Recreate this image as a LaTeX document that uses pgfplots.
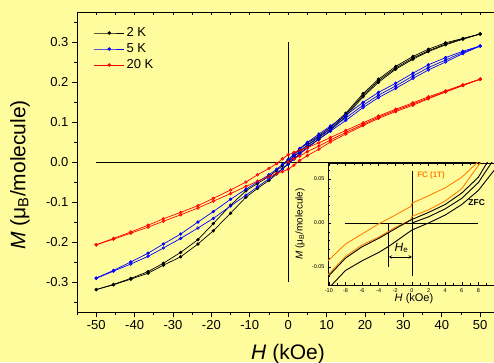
\documentclass[border=0pt]{standalone}
\usepackage{pgfplots}
\pgfplotsset{compat=1.18}
\usepackage{fontspec}
\setmainfont{Liberation Sans}
\definecolor{bgy}{RGB}{255,252,158}
\definecolor{myorange}{RGB}{255,128,0}
\definecolor{myblue}{RGB}{0,0,255}
\definecolor{myred}{RGB}{255,0,0}
\begin{document}
\begin{tikzpicture}
\fill[bgy] (0,0) rectangle (494pt,362pt);
\useasboundingbox (0,0) rectangle (494pt,362pt);
% ---------------- main axis ----------------
\begin{axis}[at={(77pt,50pt)}, anchor=south west, width=417pt, height=300pt, scale only axis,
 xmin=-55, xmax=53.6, ymin=-0.375, ymax=0.375,
 axis x line*=bottom, axis y line*=left,
 axis line style={line width=0.8pt},
 scaled ticks=false,
 tick align=outside, major tick length=5pt, minor tick length=3pt,
 every tick/.style={black, line width=0.7pt},
 xtick={-50,-40,-30,-20,-10,0,10,20,30,40,50},
 minor xtick={-55,-45,-35,-25,-15,-5,5,15,25,35,45},
 ytick={-0.3,-0.2,-0.1,0,0.1,0.2,0.3},
 minor ytick={-0.35,-0.25,-0.15,-0.05,0.05,0.15,0.25,0.35},
 tick label style={font=\fontsize{13}{15}\selectfont},
 xticklabel={\pgfmathprintnumber[assume math mode=true]{\tick}},
 yticklabel={\pgfmathprintnumber[assume math mode=true,fixed,fixed zerofill,precision=1]{\tick}},
 xlabel={\textit{H} (kOe)},
 ylabel={\textit{M} (μ\textsubscript{B}/molecule)},
 label style={font=\fontsize{21}{24}\selectfont},
 xlabel style={at={(axis description cs:0.506,0)}, anchor=base, yshift=-47pt},
 ylabel style={at={(axis description cs:-0.137,0.457)}, anchor=center},
 legend style={at={(axis description cs:0.04,0.955)}, anchor=north west, draw=none, fill=none,
   font=\fontsize{13}{15}\selectfont, inner sep=0pt, row sep=1.5pt},
 legend cell align=left,
 legend image code/.code={\draw[mark repeat=2,mark phase=2] plot coordinates {(0pt,0pt)(15pt,0pt)(30pt,0pt)};},
 every axis plot/.append style={line width=0.7pt, mark size=1.3pt},
]
\addplot[black, line width=0.7pt, mark=none, forget plot] coordinates {(-50,0)(50,0)};
\addplot[black, line width=0.7pt, mark=none, forget plot] coordinates {(0,-0.3)(0,0.3)};
% 2 K
\addplot[black, mark=*] coordinates {(0,0)(1.5,0.013)(3,0.026)(5,0.042)(8,0.061)(11,0.083)(15,0.118)(19.5,0.167)(23.5,0.203)(28,0.235)(32.5,0.260)(36.5,0.278)(41,0.295)(45.5,0.308)(50,0.320)};
\addlegendentry{2 K}
\addplot[black, mark=*, forget plot] coordinates {(50,0.320)(45.5,0.309)(41,0.298)(36.5,0.282)(32.5,0.264)(28,0.239)(23.5,0.207)(19.5,0.171)(15,0.122)(11,0.087)(8,0.066)(5,0.047)(3,0.032)(1.5,0.019)(0,0.004)(-1.5,-0.009)(-3,-0.021)(-5,-0.036)(-8,-0.054)(-11,-0.072)(-15,-0.108)(-19.5,-0.154)(-23.5,-0.194)(-28,-0.226)(-32.5,-0.253)(-36.5,-0.274)(-41,-0.291)(-45.5,-0.306)(-50,-0.319)};
\addplot[black, mark=*, forget plot] coordinates {(-50,-0.319)(-45.5,-0.307)(-41,-0.293)(-36.5,-0.278)(-32.5,-0.258)(-28,-0.237)(-23.5,-0.205)(-19.5,-0.172)(-15,-0.128)(-11,-0.088)(-8,-0.066)(-5,-0.046)(-3,-0.030)(-1.5,-0.017)(0,-0.004)(1.5,0.008)(3,0.021)(5,0.038)(8,0.057)(11,0.079)(15,0.114)(19.5,0.163)(23.5,0.199)(28,0.232)(32.5,0.257)(36.5,0.276)(41,0.293)(45.5,0.307)(50,0.320)};
% 5 K
\addplot[myblue, mark=*] coordinates {(0,0)(1.5,0.014)(3,0.027)(5,0.042)(8,0.064)(11,0.083)(15,0.110)(19.5,0.142)(23.5,0.167)(28,0.190)(32.5,0.215)(36.5,0.236)(41,0.255)(45.5,0.274)(50,0.290)};
\addlegendentry{5 K}
\addplot[myblue, mark=*, forget plot] coordinates {(50,0.290)(45.5,0.277)(41,0.261)(36.5,0.243)(32.5,0.222)(28,0.197)(23.5,0.174)(19.5,0.149)(15,0.117)(11,0.090)(8,0.070)(5,0.049)(3,0.034)(1.5,0.020)(0,0.006)(-1.5,-0.006)(-3,-0.018)(-5,-0.032)(-8,-0.050)(-11,-0.068)(-15,-0.093)(-19.5,-0.124)(-23.5,-0.150)(-28,-0.180)(-32.5,-0.205)(-36.5,-0.228)(-41,-0.250)(-45.5,-0.271)(-50,-0.290)};
\addplot[myblue, mark=o, forget plot] coordinates {(-50,-0.291)(-45.5,-0.273)(-41,-0.255)(-36.5,-0.236)(-32.5,-0.215)(-28,-0.191)(-23.5,-0.165)(-19.5,-0.141)(-15,-0.110)(-11,-0.083)(-8,-0.062)(-5,-0.042)(-3,-0.028)(-1.5,-0.017)(0,-0.006)(1.5,0.007)(3,0.020)(5,0.035)(8,0.057)(11,0.077)(15,0.104)(19.5,0.136)(23.5,0.161)(28,0.184)(32.5,0.209)(36.5,0.230)(41,0.250)(45.5,0.271)(50,0.290)};
% 20 K
\addplot[myred, mark=*] coordinates {(0,0)(1.5,0.008)(3,0.015)(5,0.026)(8,0.040)(11,0.055)(15,0.074)(19.5,0.094)(23.5,0.112)(28,0.129)(32.5,0.145)(36.5,0.160)(41,0.176)(45.5,0.192)(50,0.207)};
\addlegendentry{20 K}
\addplot[myred, mark=o, forget plot] coordinates {(50,0.207)(45.5,0.193)(41,0.178)(36.5,0.163)(32.5,0.148)(28,0.132)(23.5,0.115)(19.5,0.098)(15,0.079)(11,0.061)(8,0.048)(5,0.036)(3,0.029)(1.5,0.024)(0,0.018)(-1.5,0.008)(-3,-0.004)(-5,-0.016)(-8,-0.032)(-11,-0.050)(-15,-0.070)(-19.5,-0.091)(-23.5,-0.109)(-28,-0.126)(-32.5,-0.142)(-36.5,-0.158)(-41,-0.175)(-45.5,-0.191)(-50,-0.207)};
\addplot[myred, mark=o, forget plot] coordinates {(-50,-0.207)(-45.5,-0.193)(-41,-0.178)(-36.5,-0.163)(-32.5,-0.148)(-28,-0.132)(-23.5,-0.115)(-19.5,-0.098)(-15,-0.079)(-11,-0.061)(-8,-0.048)(-5,-0.036)(-3,-0.029)(-1.5,-0.024)(0,-0.018)(1.5,-0.008)(3,0.004)(5,0.016)(8,0.032)(11,0.050)(15,0.070)(19.5,0.091)(23.5,0.109)(28,0.126)(32.5,0.142)(36.5,0.158)(41,0.175)(45.5,0.191)(50,0.207)};
\end{axis}
% ---------------- top axis ticks ----------------
\begin{axis}[at={(77pt,50pt)}, anchor=south west, width=417pt, height=300pt, scale only axis,
 xmin=-55, xmax=53.6, ymin=-0.375, ymax=0.375,
 axis x line*=top, axis y line=none,
 axis line style={line width=0.8pt},
 xtick={-50,-45,...,50}, xticklabels={}, minor tick num=0,
 tick align=inside, major tick length=3pt,
 every tick/.style={black, line width=0.7pt},
]
\end{axis}
% ---------------- inset ----------------
\begin{axis}[at={(328pt,77pt)}, anchor=south west, width=166pt, height=122pt, scale only axis,
 xmin=-10.1, xmax=9.88, ymin=-0.0705, ymax=0.0682,
 axis background/.style={fill=bgy},
 axis x line*=box, axis y line*=left,
 axis line style={line width=0.8pt},
 scaled ticks=false,
 tick align=inside, major tick length=3pt, minor tick length=1.8pt,
 every tick/.style={black, line width=0.5pt},
 xtick={-10,-8,-6,-4,-2,0,2,4,6,8,10},
 minor xtick={-9,-7,-5,-3,-1,1,3,5,7,9},
 ytick={-0.05,0,0.05},
 minor ytick={-0.07,-0.06,-0.04,-0.03,-0.02,-0.01,0.01,0.02,0.03,0.04,0.06},
 tick label style={font=\fontsize{5.5}{6}\selectfont},
 xticklabel={\pgfmathprintnumber[assume math mode=true]{\tick}},
 yticklabel={\pgfmathprintnumber[assume math mode=true,fixed,fixed zerofill,precision=2]{\tick}},
 xlabel={\textit{H} (kOe)},
 ylabel={\textit{M} (μ\textsubscript{B}/molecule)},
 xlabel style={font=\fontsize{11}{13}\selectfont, at={(axis description cs:0.518,0)}, anchor=center, yshift=-14pt},
 ylabel style={font=\fontsize{10}{12}\selectfont, at={(axis description cs:-0.169,0.5)}, anchor=center},
 every axis plot/.append style={line width=0.9pt, mark=none},
]
\addplot[black, line width=0.7pt] coordinates {(0,-0.06)(0,0.059)};
\addplot[black, line width=0.7pt] coordinates {(-8,0)(8,0)};
\addplot[black, line width=0.7pt] coordinates {(-2.8,0)(-2.8,-0.05)};
% FC
\addplot[myorange] coordinates {(-10.1,-0.043)(-8,-0.024)(-6,-0.0125)(-4,-0.001)(-2,0.009)(-0.1,0.019)(0,0.0225)(2,0.031)(4,0.040)(6,0.052)(7.8,0.068)(8.2,0.072)};
\addplot[myorange] coordinates {(-10.1,-0.059)(-8,-0.038)(-6,-0.025)(-4,-0.016)(-2,-0.005)(-0.1,0.004)(0,0.0075)(2,0.015)(4,0.025)(6,0.039)(8.2,0.068)(8.6,0.073)};
% ZFC
\addplot[black] coordinates {(-10.1,-0.061)(-8,-0.040)(-6,-0.027)(-4,-0.0175)(-2,-0.0065)(0,0.004)(2,0.012)(4,0.021)(6,0.034)(8,0.052)(9.0,0.068)(9.4,0.073)};
\addplot[black] coordinates {(0,0)(2,0.007)(4,0.016)(6,0.028)(8,0.046)(9.4,0.066)(9.9,0.073)};
\addplot[black] coordinates {(-9.8,-0.072)(-8,-0.054)(-6,-0.043)(-4,-0.0335)(-2.7,-0.026)(0,-0.008)(2,0.0)(4,0.009)(6,0.021)(8,0.037)(9.9,0.060)};
\draw[<->, >=stealth, line width=0.5pt] (axis cs:-2.8,-0.0386) -- (axis cs:0,-0.0386);
\node[font=\fontsize{12}{14}\selectfont] at (axis cs:-1.25,-0.0284) {\textit{H}\textsubscript{e}};
\node[font=\bfseries\fontsize{8}{9}\selectfont, text=myorange] at (axis cs:2.3,0.0545) {FC (1T)};
\node[font=\bfseries\fontsize{8.5}{9}\selectfont] at (axis cs:7.8,0.0227) {ZFC};
\end{axis}
\end{tikzpicture}
\end{document}
